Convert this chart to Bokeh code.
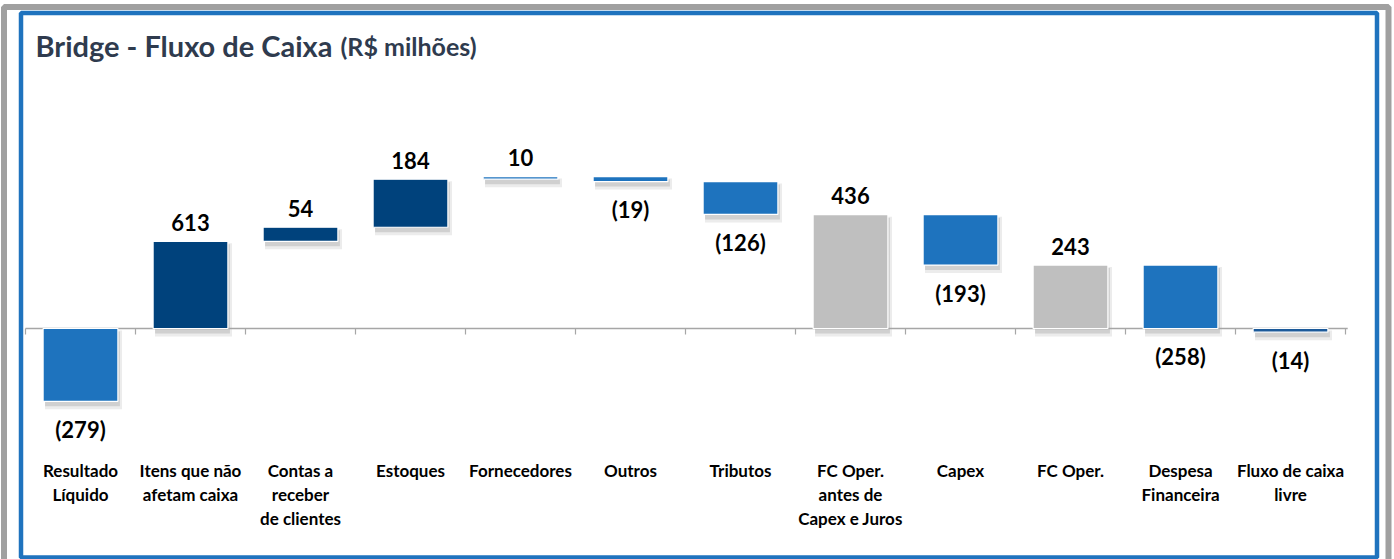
from bokeh.plotting import figure
from bokeh.models import Range1d, BoxAnnotation, Label, ColumnDataSource
from bokeh.core.properties import value
from bokeh.embed import file_html
from bokeh.resources import INLINE

# ---- data ----
categories = ["Resultado\nLíquido", "Itens que não\nafetam caixa", "Contas a\nreceber\nde clientes",
              "Estoques", "Fornecedores", "Outros", "Tributos", "FC Oper.\nantes de\nCapex e Juros",
              "Capex", "FC Oper.", "Despesa\nFinanceira", "Fluxo de caixa\nlivre"]
values = [-279, 613, 54, 184, 10, -19, -126, 436, -193, 243, -258, -14]
is_total = [False, False, False, False, False, False, False, True, False, True, False, True]

# ---- styles ----
bar_colors = ["#1e73be", "#00427c", "#00427c", "#00427c", "#1e73be", "#1e73be", "#1e73be",
              "#bfbfbf", "#1e73be", "#bfbfbf", "#1e73be", "#1c5a9a"]
FONT = "Lato"
W, H = 1394, 559
X0, CW = 25, 110          # left of category band / width of one category (px)
ZERO, PX = 328, 0.261     # pixel row of zero, pixels per unit
n = len(categories)

# waterfall geometry from the values
xs = [i + 0.5 for i in range(n)]
lo, hi, anchors, offs, labels = [], [], [], [], []
cum = 0
for v, tot in zip(values, is_total):
    if tot:
        a, b = 0, v
        cum = v
    else:
        a, b = cum, cum + v
        cum += v
    l, h = min(a, b), max(a, b)
    if not tot and l < 0 < h:
        l = 0
    lo.append(l)
    hi.append(h)
    if v >= 0:
        anchors.append(h); offs.append(-19); labels.append(f"{v}")
    else:
        anchors.append(l); offs.append(28); labels.append(f"({-v})")

src = ColumnDataSource(dict(x=xs, xs1=[x + 3 / CW for x in xs], xs2=[x + 2 / CW for x in xs],
                            cat=categories, lo=lo, hi=hi, color=bar_colors,
                            sh_top=[h - 2 / PX for h in hi], sh_bot=[l - 8 / PX for l in lo],
                            sh_top2=[h - 3 / PX for h in hi], sh_bot2=[l - 5 / PX for l in lo],
                            ay=anchors, off=offs, lab=labels, zero=[0] * n))

p = figure(width=W, height=H,
           x_range=Range1d(-X0 / CW, (W - X0) / CW),
           y_range=Range1d(-(H - ZERO) / PX, ZERO / PX),
           output_backend="svg", toolbar_location=None,
           min_border=0, min_border_left=0, min_border_right=0, min_border_top=0, min_border_bottom=0)
p.background_fill_color = "white"
p.border_fill_color = "white"
p.outline_line_color = None
p.grid.visible = False
p.axis.visible = False

# shadows
p.vbar(x="xs1", width=0.70, top="sh_top", bottom="sh_bot", source=src,
       fill_color="#7f7f7f", fill_alpha=0.15, line_color=None)
p.vbar(x="xs2", width=0.68, top="sh_top2", bottom="sh_bot2", source=src,
       fill_color="#7f7f7f", fill_alpha=0.26, line_color=None)

# zero line and category ticks
bounds = list(range(n + 1))
p.segment(x0=[0], x1=[n + 0.02], y0=[0], y1=[0], line_color="#a6a6a6", line_width=1.5)
p.segment(x0=bounds, x1=bounds, y0=[0] * (n + 1), y1=[-6 / PX] * (n + 1),
          line_color="#a6a6a6", line_width=1.2)

# bars
p.vbar(x="x", width=0.68, top="hi", bottom="lo", source=src, fill_color="color",
       line_color="white", line_width=1.2)

# value labels
p.text(x="x", y="ay", text="lab", y_offset="off", source=src, text_align="center",
       text_baseline="middle", text_font=value(FONT), text_font_style="bold",
       text_font_size="22px", text_color="black")

# category labels
p.text(x="x", y="zero", text="cat", y_offset=131, source=src, text_align="center",
       text_baseline="top", text_font=value(FONT), text_font_style="bold",
       text_font_size="17px", text_color="black", text_line_height=1.15)

# title
p.add_layout(Label(x=35, y=H - 45, x_units="screen", y_units="screen", text="Bridge - Fluxo de Caixa",
                   text_font=FONT, text_font_style="bold", text_font_size="29px",
                   text_color="#2f3b4e", text_baseline="alphabetic"))
p.add_layout(Label(x=340, y=H - 45, x_units="screen", y_units="screen", text="(R$ milhões)",
                   text_font=FONT, text_font_style="bold", text_font_size="25px",
                   text_color="#2f3b4e", text_baseline="alphabetic"))

# frame borders
p.add_layout(BoxAnnotation(left=3.5, right=1388, top=H - 6.5, bottom=-20,
                           left_units="screen", right_units="screen", top_units="screen", bottom_units="screen",
                           fill_color=None, fill_alpha=0, line_color="#a0a0a0", line_alpha=1, line_width=6))
p.add_layout(BoxAnnotation(left=20.5, right=1376.5, top=H - 12.5, bottom=2,
                           left_units="screen", right_units="screen", top_units="screen", bottom_units="screen",
                           fill_color=None, fill_alpha=0, line_color="#1f73be", line_alpha=1, line_width=4.5))

open("out.html", "w").write(file_html(p, INLINE))
